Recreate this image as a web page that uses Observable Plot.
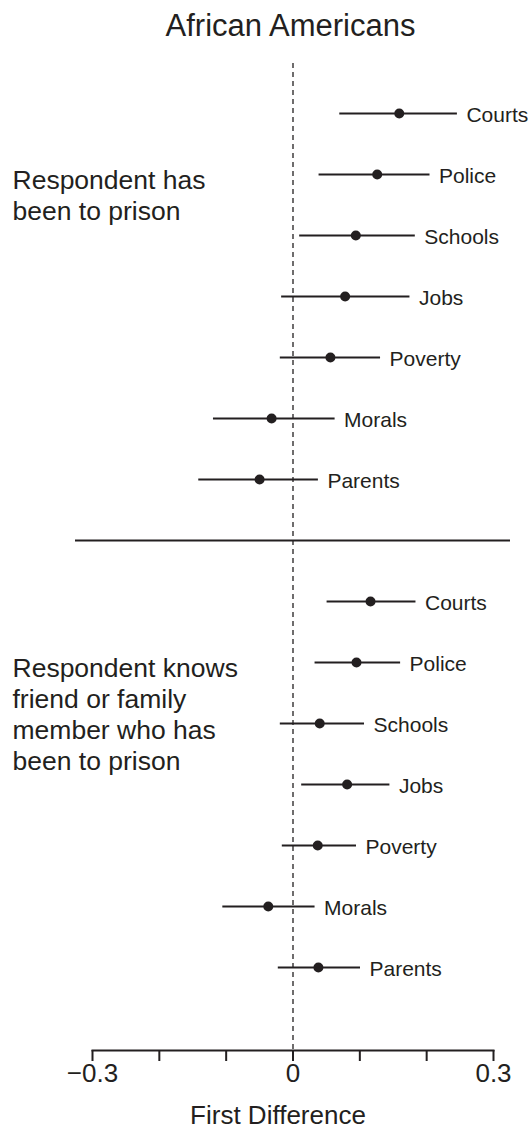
<!DOCTYPE html>
<html>
<head>
<meta charset="utf-8">
<script src="https://cdn.jsdelivr.net/npm/d3@7"></script>
<script src="https://cdn.jsdelivr.net/npm/@observablehq/plot@0.6"></script>
<style>
  html, body { margin: 0; padding: 0; background: #fff; }
  #wrap { width: 531px; font-family: "Liberation Sans", Arial, Helvetica, sans-serif; color: #231f20; }
  #title { box-sizing: border-box; width: 531px; height: 60px; padding-top: 10px; padding-left: 50px;
           text-align: center; font-size: 31px; line-height: 31px; }
  svg { display: block; overflow: visible; }
</style>
</head>
<body>
<div id="wrap">
  <div id="title">African Americans</div>
  <div id="chart"></div>
</div>
<script>
// ---- data ----
const categories = ["Courts", "Police", "Schools", "Jobs", "Poverty", "Morals", "Parents"];
const groups = ["prison", "knows"];
const groupLabels = ["Respondent has\nbeen to prison", "Respondent knows\nfriend or family\nmember who has\nbeen to prison"];

const prisonEst  = [0.159, 0.126, 0.094, 0.078, 0.056, -0.032, -0.050];
const prisonLow  = [0.070, 0.039, 0.010, -0.017, -0.019, -0.119, -0.141];
const prisonHigh = [0.246, 0.205, 0.183, 0.175, 0.131, 0.063, 0.038];

const knowsEst  = [0.116, 0.095, 0.040, 0.081, 0.037, -0.037, 0.038];
const knowsLow  = [0.051, 0.033, -0.019, 0.013, -0.016, -0.105, -0.022];
const knowsHigh = [0.184, 0.161, 0.107, 0.145, 0.095, 0.033, 0.101];

const xTicks = [-0.3, -0.2, -0.1, 0, 0.1, 0.2, 0.3];
const xTickLabels = ["\u22120.3", "", "", "0", "", "", "0.3"];
const xLabel = "First Difference";

// ---- build table ----
const series = {
  prison: {est: prisonEst, low: prisonLow, high: prisonHigh},
  knows: {est: knowsEst, low: knowsLow, high: knowsHigh}
};
const rows = [];
for (const g of groups) {
  categories.forEach((c, i) => rows.push({
    group: g, cat: c, key: g + "|" + c,
    est: series[g].est[i], low: series[g].low[i], high: series[g].high[i]
  }));
}
const yDomain = [...categories.map(c => "prison|" + c), "sep", ...categories.map(c => "knows|" + c)];
const labelRows = groups.map((g, i) => ({key: g + "|Police", text: groupLabels[i]}));
const ink = "#231f20";
const fmt = new Map(xTicks.map((t, i) => [t, xTickLabels[i]]));

const chart = Plot.plot({
  width: 531,
  height: 1070,
  marginLeft: 92,
  marginRight: 38,
  marginTop: 3,
  marginBottom: 80,
  style: {fontFamily: '"Liberation Sans", Arial, Helvetica, sans-serif', color: ink, background: "#fff", overflow: "visible"},
  x: {domain: [-0.3, 0.3]},
  y: {type: "point", domain: yDomain, padding: 0, insetTop: 49, insetBottom: 82.6, axis: null},
  marks: [
    Plot.ruleX([0], {stroke: ink, strokeWidth: 1.3, strokeDasharray: "5,4"}),
    Plot.ruleY(["sep"], {y: d => d, stroke: ink, strokeWidth: 2, insetLeft: -17, insetRight: -17}),
    Plot.ruleY(rows, {x1: "low", x2: "high", y: "key", stroke: ink, strokeWidth: 2}),
    Plot.dot(rows, {x: "est", y: "key", r: 5, fill: ink, stroke: "none"}),
    Plot.text(rows, {x: "high", y: "key", text: "cat", dx: 9, dy: 1.5, textAnchor: "start", fontSize: 21, fill: ink}),
    Plot.text(labelRows, {y: "key", text: "text", frameAnchor: "left", dx: -80, dy: -8, textAnchor: "start",
      lineAnchor: "top", lineHeight: 1.17, fontSize: 26.5, fill: ink}),
    Plot.frame({anchor: "bottom", stroke: ink, strokeWidth: 2}),
    Plot.axisX({ticks: xTicks, tickSize: 11, tickPadding: 2, tickFormat: d => fmt.get(d) ?? "",
      fontSize: 26, stroke: ink, strokeWidth: 2, fill: ink, label: null}),
    Plot.text([xLabel], {text: d => d, frameAnchor: "bottom", dx: -15, dy: 73, lineAnchor: "bottom",
      fontSize: 26, fill: ink})
  ]
});
document.getElementById("chart").appendChild(chart);
</script>
</body>
</html>
